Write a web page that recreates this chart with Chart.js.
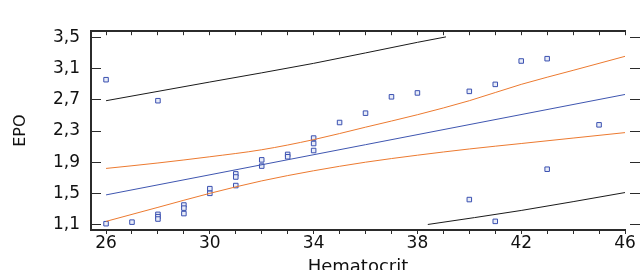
<!DOCTYPE html>
<html>
<head>
<meta charset="utf-8">
<script src="https://cdn.jsdelivr.net/npm/chart.js@4/dist/chart.umd.min.js"></script>
<style>
  html, body { margin: 0; padding: 0; background: #fff; }
  canvas { display: block; }
</style>
</head>
<body>
<canvas id="epo-chart" width="640" height="270"></canvas>
<script>
// observations
const hematocrit = [26, 26, 27, 28, 28, 28, 28, 29, 29, 29, 30, 30, 31, 31, 31, 32, 32, 33, 33, 34, 34, 34, 35, 36, 37, 38, 40, 40, 41, 41, 42, 43, 43, 45];
const epo = [2.96, 1.11, 1.13, 2.69, 1.23, 1.20, 1.17, 1.35, 1.31, 1.24, 1.56, 1.50, 1.75, 1.71, 1.60, 1.93, 1.85, 2.00, 1.97, 2.21, 2.14, 2.05, 2.41, 2.53, 2.74, 2.79, 2.81, 1.42, 2.90, 1.14, 3.20, 3.23, 1.81, 2.38];

// fitted line
const fitX = [26, 46];
const fitY = [1.48, 2.77];

// confidence band for the mean
const bandX = [26, 28, 30, 32, 34, 36, 38, 40, 42, 44, 46];
const bandUpper = [1.82, 1.89, 1.97, 2.06, 2.19, 2.35, 2.51, 2.69, 2.90, 3.08, 3.26];
const bandLower = [1.14, 1.32, 1.50, 1.66, 1.79, 1.90, 1.99, 2.07, 2.14, 2.21, 2.28];

// prediction limits
const predUpperX = [26, 30, 34, 38, 39.1];
const predUpperY = [2.69, 2.93, 3.17, 3.44, 3.51];
const predLowerX = [38.4, 42, 46];
const predLowerY = [1.10, 1.28, 1.51];

// axes
const xTicks = [26, 27, 28, 29, 30, 31, 32, 33, 34, 35, 36, 37, 38, 39, 40, 41, 42, 43, 44, 45, 46];
const xLabels = [26, 30, 34, 38, 42, 46];
const yTicks = [1.1, 1.5, 1.9, 2.3, 2.7, 3.1, 3.5];

function pairs(xs, ys) {
    return xs.map((x, i) => ({x: x, y: ys[i]}));
}

function lineSet(xs, ys, color) {
    return {
        data: pairs(xs, ys),
        showLine: true,
        borderColor: color,
        borderWidth: 1,
        pointRadius: 0,
        cubicInterpolationMode: 'monotone',
        fill: false
    };
}

const axisColor = '#2b2b2b';
const font = 'DejaVu Sans';

new Chart(document.querySelector('#epo-chart').getContext('2d'), {
    type: 'scatter',
    data: {
        datasets: [
            lineSet(predUpperX, predUpperY, '#1a1a1a'),
            lineSet(predLowerX, predLowerY, '#1a1a1a'),
            lineSet(bandX, bandUpper, '#ec7a30'),
            lineSet(bandX, bandLower, '#ec7a30'),
            lineSet(fitX, fitY, '#3f56b0'),
            {
                data: pairs(hematocrit, epo),
                pointStyle: 'rect',
                pointRadius: 3.2,
                borderWidth: 1,
                borderColor: '#3a50b0',
                backgroundColor: '#e8ecf8'
            }
        ]
    },
    options: {
        responsive: false,
        animation: false,
        layout: {padding: 0},
        plugins: {legend: {display: false}, tooltip: {enabled: false}},
        scales: {
            x: {
                type: 'linear',
                position: 'bottom',
                min: 25.42,
                max: 46,
                afterFit: s => { s.height = 40; },
                afterBuildTicks: s => { s.ticks = xTicks.map(v => ({value: v})); },
                grid: {drawOnChartArea: false, tickLength: 4, color: axisColor, lineWidth: 1},
                border: {color: axisColor, width: 2},
                ticks: {
                    autoSkip: false,
                    maxRotation: 0,
                    padding: -1,
                    color: '#111',
                    font: {family: font, size: 17},
                    callback: v => xLabels.includes(v) ? String(v) : ''
                },
                title: {
                    display: true,
                    text: 'Hematocrit',
                    color: '#111',
                    font: {family: font, size: 18},
                    padding: {top: 0, bottom: -8}
                }
            },
            xTop: {
                type: 'linear',
                position: 'top',
                min: 25.42,
                max: 46,
                afterFit: s => { s.height = 15; },
                afterBuildTicks: s => { s.ticks = xTicks.map(v => ({value: v})); },
                grid: {drawOnChartArea: false, tickLength: -4, color: axisColor, lineWidth: 1},
                border: {color: axisColor, width: 2},
                ticks: {display: false}
            },
            y: {
                type: 'linear',
                position: 'left',
                min: 1.029,
                max: 3.583,
                afterFit: s => { s.width = 91; },
                afterBuildTicks: s => { s.ticks = yTicks.map(v => ({value: v})); },
                grid: {drawOnChartArea: false, tickLength: -10, color: axisColor, lineWidth: 1},
                border: {color: axisColor, width: 2},
                ticks: {
                    padding: 21,
                    color: '#111',
                    font: {family: font, size: 17},
                    callback: v => v.toFixed(1).replace('.', ',')
                },
                title: {
                    display: true,
                    text: 'EPO',
                    color: '#111',
                    font: {family: font, size: 16},
                    padding: {top: 11, bottom: 0}
                }
            },
            yRight: {
                type: 'linear',
                position: 'right',
                min: 1.029,
                max: 3.583,
                afterFit: s => { s.width = 15; },
                afterBuildTicks: s => { s.ticks = yTicks.map(v => ({value: v})); },
                grid: {drawOnChartArea: false, tickLength: 15, tickBorderDash: [0, 5, 10, 5], color: axisColor, lineWidth: 1},
                border: {display: false},
                ticks: {display: false}
            }
        }
    }
});
</script>
</body>
</html>
